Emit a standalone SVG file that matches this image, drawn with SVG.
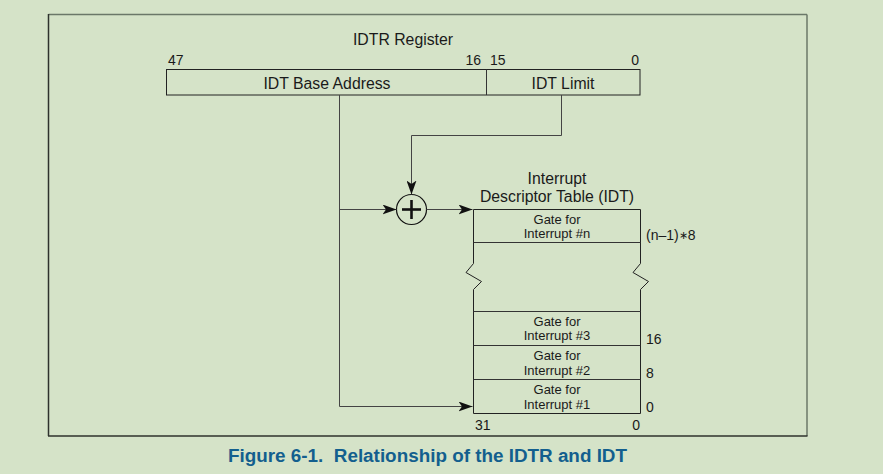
<svg xmlns="http://www.w3.org/2000/svg" width="883" height="474" viewBox="0 0 883 474">
<style>
text{font-family:"Liberation Sans",Arial,sans-serif;fill:#1a1a1a}
.t14{font-size:15.8px}
.t12{font-size:14px}
.g{font-size:13px}
.box{fill:none;stroke:#222;stroke-width:1}
.row{stroke:#333;stroke-width:1}
.conn{fill:none;stroke:#444;stroke-width:1}
.cap{font-family:"Liberation Sans",Arial,sans-serif;font-weight:bold;font-size:17.5px;fill:#135f8e}
</style>
<defs>
<marker id="arr" viewBox="0 0 14 10" refX="14" refY="5" markerWidth="14" markerHeight="10" markerUnits="userSpaceOnUse" orient="auto">
<path d="M0,0 L14,5 L0,10 L3.5,5 Z" fill="#111"/>
</marker>
</defs>
<rect width="883" height="474" fill="#d5e3c8"/>
<g id="frame">
<line x1="48.5" y1="14.5" x2="807" y2="14.5" stroke="#6b7869" stroke-width="1.5"/>
<line x1="807" y1="14.5" x2="807" y2="436" stroke="#6b7869" stroke-width="1.5"/>
<line x1="48.5" y1="14" x2="48.5" y2="436" stroke="#2e322d" stroke-width="1.5"/>
<line x1="48" y1="436" x2="807.5" y2="436" stroke="#2e322d" stroke-width="1.5"/>
</g>
<g id="idtr">
<text class="t14" x="403" y="45" text-anchor="middle">IDTR Register</text>
<text class="t12" x="168" y="64.5">47</text>
<text class="t12" x="481" y="64.5" text-anchor="end">16</text>
<text class="t12" x="490" y="64.5">15</text>
<text class="t12" x="639" y="64.5" text-anchor="end">0</text>
<rect class="box" x="166.5" y="69.5" width="473.5" height="25.5"/>
<line class="row" x1="486.5" y1="69.5" x2="486.5" y2="95"/>
<text class="t14" x="327" y="88.5" text-anchor="middle">IDT Base Address</text>
<text class="t14" x="563" y="88.5" text-anchor="middle">IDT Limit</text>
</g>
<g id="adder">
<circle cx="411.5" cy="209.5" r="15" fill="none" stroke="#111" stroke-width="1.2"/>
<line x1="411.5" y1="200" x2="411.5" y2="219" stroke="#111" stroke-width="2.6"/>
<line x1="402" y1="209.5" x2="421" y2="209.5" stroke="#111" stroke-width="2.6"/>
</g>
<g id="idt">
<text class="t14" x="557" y="183.5" text-anchor="middle">Interrupt</text>
<text class="t14" x="557" y="202" text-anchor="middle">Descriptor Table (IDT)</text>
<path class="box" d="M473.5,209.5 H640.5 V263.5 L633,272.5 L648.5,281.5 L640.5,289.5 V413.5 H473.5 V289.5 L481.5,281.5 L466,272.5 L473.5,263.5 Z"/>
<line class="row" x1="473.5" y1="242.5" x2="640.5" y2="242.5"/>
<line class="row" x1="473.5" y1="311.5" x2="640.5" y2="311.5"/>
<line class="row" x1="473.5" y1="345.5" x2="640.5" y2="345.5"/>
<line class="row" x1="473.5" y1="379.5" x2="640.5" y2="379.5"/>
<g class="g" text-anchor="middle">
<text x="557" y="223.5">Gate for</text>
<text x="557" y="238">Interrupt #n</text>
<text x="557" y="325.5">Gate for</text>
<text x="557" y="340">Interrupt #3</text>
<text x="557" y="360">Gate for</text>
<text x="557" y="374.5">Interrupt #2</text>
<text x="557" y="394">Gate for</text>
<text x="557" y="408.5">Interrupt #1</text>
</g>
<text class="t12" x="646" y="240">(n–1)<tspan font-size="11" dy="-1">∗</tspan><tspan dy="1">8</tspan></text>
<text class="t12" x="646" y="343.5">16</text>
<text class="t12" x="646" y="378">8</text>
<text class="t12" x="646" y="411.5">0</text>
<text class="t12" x="475" y="429.5">31</text>
<text class="t12" x="640" y="429.5" text-anchor="end">0</text>
</g>
<g id="connectors">
<polyline class="conn" points="561.5,95 561.5,135.5 411.5,135.5 411.5,194.5" marker-end="url(#arr)"/>
<polyline class="conn" points="339.5,95 339.5,406.5 472.5,406.5" marker-end="url(#arr)"/>
<line class="conn" x1="339.5" y1="209.5" x2="396.5" y2="209.5" marker-end="url(#arr)"/>
<line class="conn" x1="426.5" y1="209.5" x2="472.5" y2="209.5" marker-end="url(#arr)"/>
</g>
<text class="cap" x="228" y="462" textLength="399" lengthAdjust="spacingAndGlyphs" xml:space="preserve">Figure 6-1.  Relationship of the IDTR and IDT</text>
</svg>
